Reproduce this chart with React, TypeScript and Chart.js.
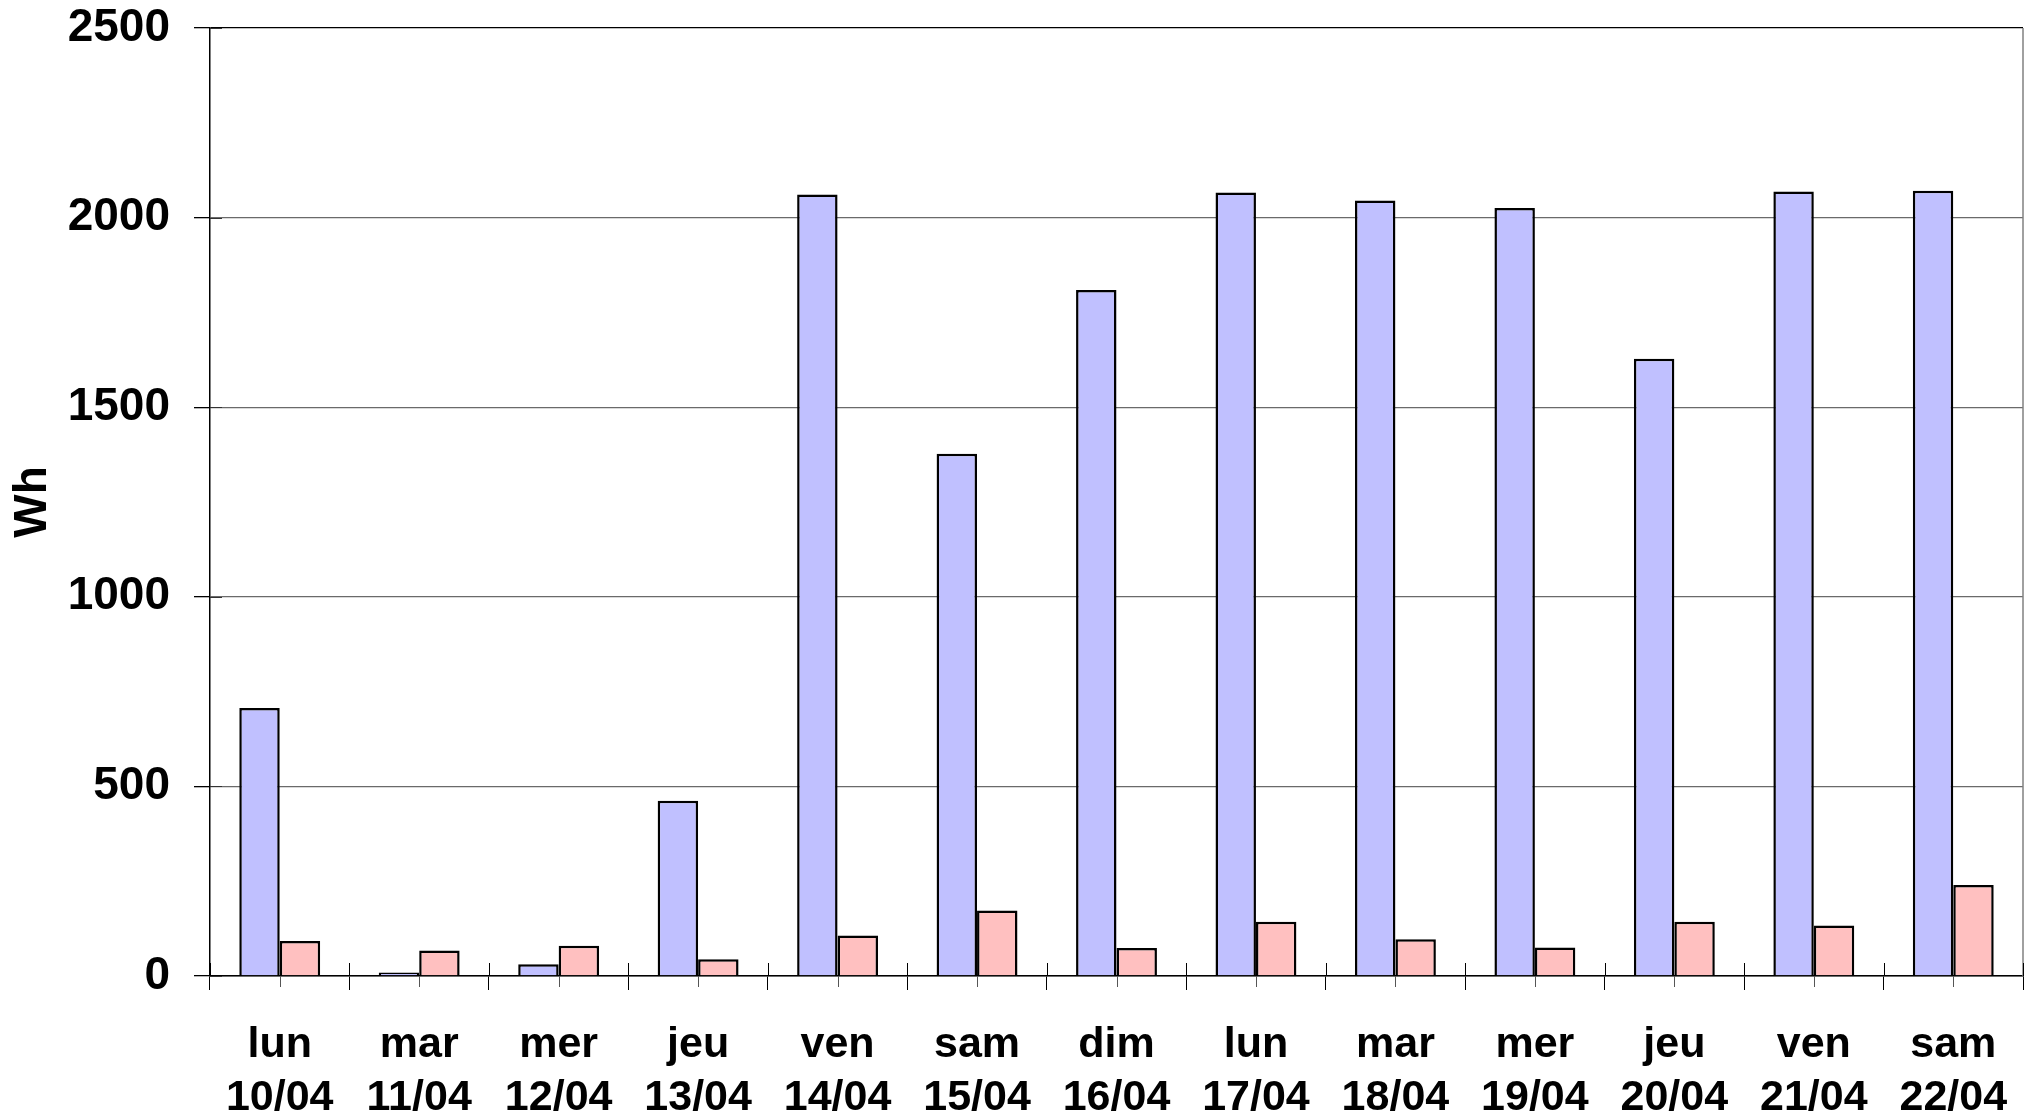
import React, { useEffect, useRef } from "react";
import { Chart, registerables } from "chart.js";

Chart.register(...registerables);

const dayNames = ["lun", "mar", "mer", "jeu", "ven", "sam", "dim", "lun", "mar", "mer", "jeu", "ven", "sam"];
const dates = ["10/04", "11/04", "12/04", "13/04", "14/04", "15/04", "16/04", "17/04", "18/04", "19/04", "20/04", "21/04", "22/04"];
const seriesBlue = [707, 9, 31, 462, 2061, 1377, 1809, 2066, 2045, 2025, 1628, 2069, 2071];
const seriesPink = [92, 67, 80, 44, 107, 173, 74, 143, 97, 75, 143, 133, 240];
const yTickValues = [0, 500, 1000, 1500, 2000, 2500];
const yTitle = "Wh";

const FONT = "'Liberation Sans', Arial, Helvetica, sans-serif";

export default function App() {
  const ref = useRef<HTMLCanvasElement | null>(null);

  useEffect(() => {
    const W = 2036;
    const H = 1114;
    const plotLeft = 210;
    const plotRight = 2023;
    const plotTop = 28;
    const plotBottom = 976;

    const crossTicks = {
      id: "crossTicks",
      afterDraw(chart: any) {
        const ctx = chart.ctx;
        const area = chart.chartArea;
        const xs = chart.scales.x;
        const ys = chart.scales.y;
        ctx.save();
        // right border
        ctx.strokeStyle = "#808080";
        ctx.lineWidth = 1.5;
        ctx.beginPath();
        ctx.moveTo(area.right, area.top);
        ctx.lineTo(area.right, area.bottom);
        ctx.stroke();
        // boundary ticks extending above the axis
        ctx.strokeStyle = "#000";
        ctx.lineWidth = 1;
        const n = dayNames.length;
        for (let i = 0; i <= n; i++) {
          let x;
          if (i === 0) x = area.left;
          else if (i === n) x = area.right;
          else x = (xs.getPixelForValue(i - 1) + xs.getPixelForValue(i)) / 2;
          ctx.beginPath();
          ctx.moveTo(Math.round(x) + 0.5, area.bottom - 13);
          ctx.lineTo(Math.round(x) + 0.5, area.bottom);
          ctx.stroke();
        }
        // center ticks below the axis
        ctx.strokeStyle = "#555";
        for (let i = 0; i < n; i++) {
          const x = xs.getPixelForValue(i);
          ctx.beginPath();
          ctx.moveTo(Math.round(x) + 0.5, area.bottom);
          ctx.lineTo(Math.round(x) + 0.5, area.bottom + 11);
          ctx.stroke();
        }
        // inner y ticks
        ctx.strokeStyle = "#333";
        for (const v of yTickValues) {
          const y = ys.getPixelForValue(v);
          ctx.beginPath();
          ctx.moveTo(area.left, Math.round(y) + 0.5);
          ctx.lineTo(area.left + 12, Math.round(y) + 0.5);
          ctx.stroke();
        }
        ctx.restore();
      },
    };

    const chart = new Chart(ref.current as HTMLCanvasElement, {
      type: "bar",
      data: {
        labels: dayNames.map((d, i) => [d, dates[i]]),
        datasets: [
          {
            data: seriesBlue,
            backgroundColor: "#C0C0FF",
            borderColor: "#000",
            borderWidth: 2.5,
            categoryPercentage: 0.58,
            barPercentage: 1,
          },
          {
            data: seriesPink,
            backgroundColor: "#FFC0C0",
            borderColor: "#000",
            borderWidth: 2.5,
            categoryPercentage: 0.58,
            barPercentage: 1,
          },
        ],
      },
      options: {
        responsive: false,
        maintainAspectRatio: false,
        animation: false,
        layout: { padding: { left: 0, right: W - plotRight, top: 0, bottom: 0 } },
        plugins: {
          legend: { display: false },
          tooltip: { enabled: false },
          title: { display: false },
        },
        scales: {
          x: {
            offset: true,
            grid: {
              offset: true,
              drawOnChartArea: false,
              drawTicks: true,
              tickLength: 14,
              color: "#000",
              lineWidth: 1,
            },
            border: { display: true, color: "#000", width: 1.5 },
            ticks: {
              color: "#000",
              autoSkip: false,
              maxRotation: 0,
              minRotation: 0,
              padding: 28,
              font: { family: FONT, size: 43, weight: "bold", lineHeight: 1.25 },
            },
            afterFit: (s: any) => {
              s.height = H - plotBottom;
              s.paddingTop = 0;
            },
          },
          y: {
            min: 0,
            max: 2500,
            afterBuildTicks: (s: any) => {
              s.ticks = yTickValues.map((v) => ({ value: v }));
            },
            grid: {
              color: (c: any) => (c.tick && c.tick.value === 2500 ? "#000" : "#6a6a6a"),
              lineWidth: 1.3,
              tickLength: 16,
              tickColor: "#000",
              drawTicks: true,
            },
            border: { display: true, color: "#000", width: 1.5 },
            ticks: {
              color: "#000",
              padding: 24,
              font: { family: FONT, size: 46, weight: "bold" },
              callback: (v: any) => String(v),
            },
            title: {
              display: true,
              text: yTitle,
              color: "#000",
              font: { family: FONT, size: 46, weight: "bold" },
              padding: { top: 6, bottom: 0 },
            },
            afterFit: (s: any) => {
              s.width = plotLeft;
              s.paddingTop = plotTop;
              s.paddingBottom = 0;
            },
          },
        },
      },
      plugins: [crossTicks],
    } as any);

    return () => chart.destroy();
  }, []);

  return (
    <div style={{ position: "absolute", left: 0, top: 0, width: 2036, height: 1114, background: "#fff" }}>
      <canvas ref={ref} width={2036} height={1114} style={{ display: "block", width: 2036, height: 1114 }} />
    </div>
  );
}
